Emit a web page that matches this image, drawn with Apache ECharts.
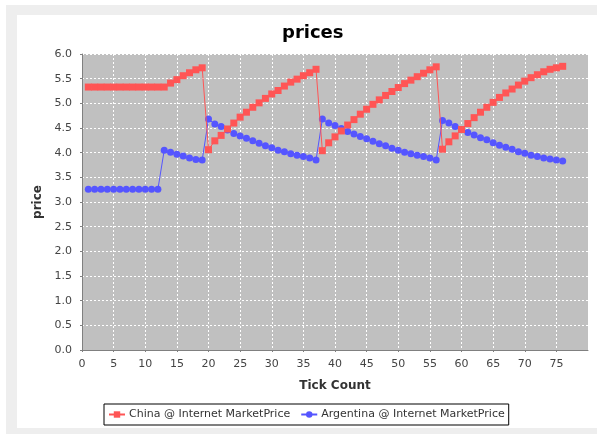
<!DOCTYPE html>
<html>
<head>
<meta charset="utf-8">
<script src="https://cdn.jsdelivr.net/npm/echarts@6/dist/echarts.min.js"></script>
<style>
html,body{margin:0;padding:0;background:#fff;width:597px;height:434px;overflow:hidden;}
#frame{position:absolute;left:6px;top:5px;width:591px;height:429px;background:#eeeeee;}
#panel{position:absolute;left:17px;top:15px;width:580px;height:413px;background:#ffffff;}
#chart{position:absolute;left:0;top:0;width:597px;height:434px;}
</style>
</head>
<body>
<div id="frame"></div>
<div id="panel"></div>
<div id="chart"></div>
<script>
const ticks = [1,2,3,4,5,6,7,8,9,10,11,12,13,14,15,16,17,18,19,20,21,22,23,24,25,26,27,28,29,30,31,32,33,34,35,36,37,38,39,40,41,42,43,44,45,46,47,48,49,50,51,52,53,54,55,56,57,58,59,60,61,62,63,64,65,66,67,68,69,70,71,72,73,74,75,76];
const chinaPrice = [
  5.33,5.33,5.33,5.33,5.33,5.33,5.33,5.33,5.33,5.33,5.33,5.33,5.33,
  5.41,5.48,5.56,5.62,5.68,5.72,
  4.06,4.24,4.35,4.48,4.60,4.72,4.82,4.92,5.01,5.10,5.19,5.26,5.35,5.43,5.49,5.56,5.62,5.69,
  4.04,4.20,4.32,4.44,4.56,4.67,4.78,4.88,4.98,5.07,5.16,5.24,5.32,5.40,5.47,5.54,5.61,5.68,5.74,
  4.07,4.22,4.34,4.47,4.59,4.71,4.82,4.92,5.02,5.12,5.21,5.29,5.37,5.45,5.52,5.58,5.64,5.69,5.72,5.75
];
const argentinaPrice = [
  3.26,3.26,3.26,3.26,3.26,3.26,3.26,3.26,3.26,3.26,3.26,3.26,
  4.05,4.01,3.97,3.93,3.89,3.86,3.85,
  4.68,4.58,4.53,4.46,4.39,4.34,4.29,4.24,4.19,4.14,4.10,4.05,4.02,3.98,3.95,3.92,3.89,3.85,
  4.68,4.60,4.55,4.49,4.43,4.38,4.33,4.28,4.23,4.18,4.14,4.09,4.05,4.01,3.98,3.95,3.92,3.89,3.85,
  4.65,4.60,4.53,4.47,4.41,4.36,4.30,4.26,4.20,4.15,4.11,4.07,4.02,3.99,3.95,3.92,3.89,3.87,3.85,3.83
];
const seriesNames = ['China @ Internet MarketPrice','Argentina @ Internet MarketPrice'];
const titleText = 'prices';
const xName = 'Tick Count';
const yName = 'price';

const FONT = 'DejaVu Sans';
const chart = echarts.init(document.getElementById('chart'), null, {renderer:'canvas'});
chart.setOption({
  animation:false,
  backgroundColor:'transparent',
  title:{text:titleText,left:277,top:19,textStyle:{fontFamily:FONT,fontSize:18,fontWeight:'bold',color:'#000'}},
  grid:{left:82,top:54,right:9,bottom:84,show:true,backgroundColor:'#c0c0c0',borderWidth:0},
  legend:{
    left:104,top:404,width:409,
    padding:[5,4,5,4],itemGap:10,itemWidth:16,itemHeight:8,
    borderColor:'#000',borderWidth:1,backgroundColor:'#fff',borderRadius:0,
    textStyle:{fontFamily:FONT,fontSize:11,color:'#333',padding:[0,0,0,-1]},
    data:seriesNames
  },
  xAxis:{
    type:'value',min:0,max:80,interval:5,offset:4,
    name:xName,nameLocation:'middle',nameGap:26,
    nameTextStyle:{fontFamily:FONT,fontSize:12,fontWeight:'bold',color:'#333'},
    axisLine:{show:true,lineStyle:{color:'#808080',width:1}},
    axisTick:{show:true,length:2,lineStyle:{color:'#808080'}},
    axisLabel:{fontFamily:FONT,fontSize:11,color:'#444',margin:5,showMaxLabel:false},
    splitLine:{show:true,lineStyle:{color:'#ffffff',type:[2,2],width:1}}
  },
  yAxis:{
    type:'value',min:0,max:6,interval:0.5,offset:4,
    name:yName,nameLocation:'middle',nameGap:34,nameRotate:90,
    nameTextStyle:{fontFamily:FONT,fontSize:12,fontWeight:'bold',color:'#333'},
    axisLine:{show:true,lineStyle:{color:'#808080',width:1}},
    axisTick:{show:true,length:2,lineStyle:{color:'#808080'}},
    axisLabel:{fontFamily:FONT,fontSize:11,color:'#444',margin:6,formatter:v=>v.toFixed(1)},
    splitLine:{show:true,lineStyle:{color:'#ffffff',type:[2,2],width:1}}
  },
  series:[
    {name:seriesNames[0],type:'line',z:3,symbol:'rect',symbolSize:7,showSymbol:true,
     itemStyle:{color:'#ff5555'},lineStyle:{color:'#ff5555',width:1},
     data:ticks.map((t,i)=>[t,chinaPrice[i]])},
    {name:seriesNames[1],type:'line',z:2,symbol:'circle',symbolSize:7,showSymbol:true,
     itemStyle:{color:'#5555ff'},lineStyle:{color:'#5555ff',width:1},
     data:ticks.map((t,i)=>[t,argentinaPrice[i]])}
  ]
});
</script>
</body>
</html>
